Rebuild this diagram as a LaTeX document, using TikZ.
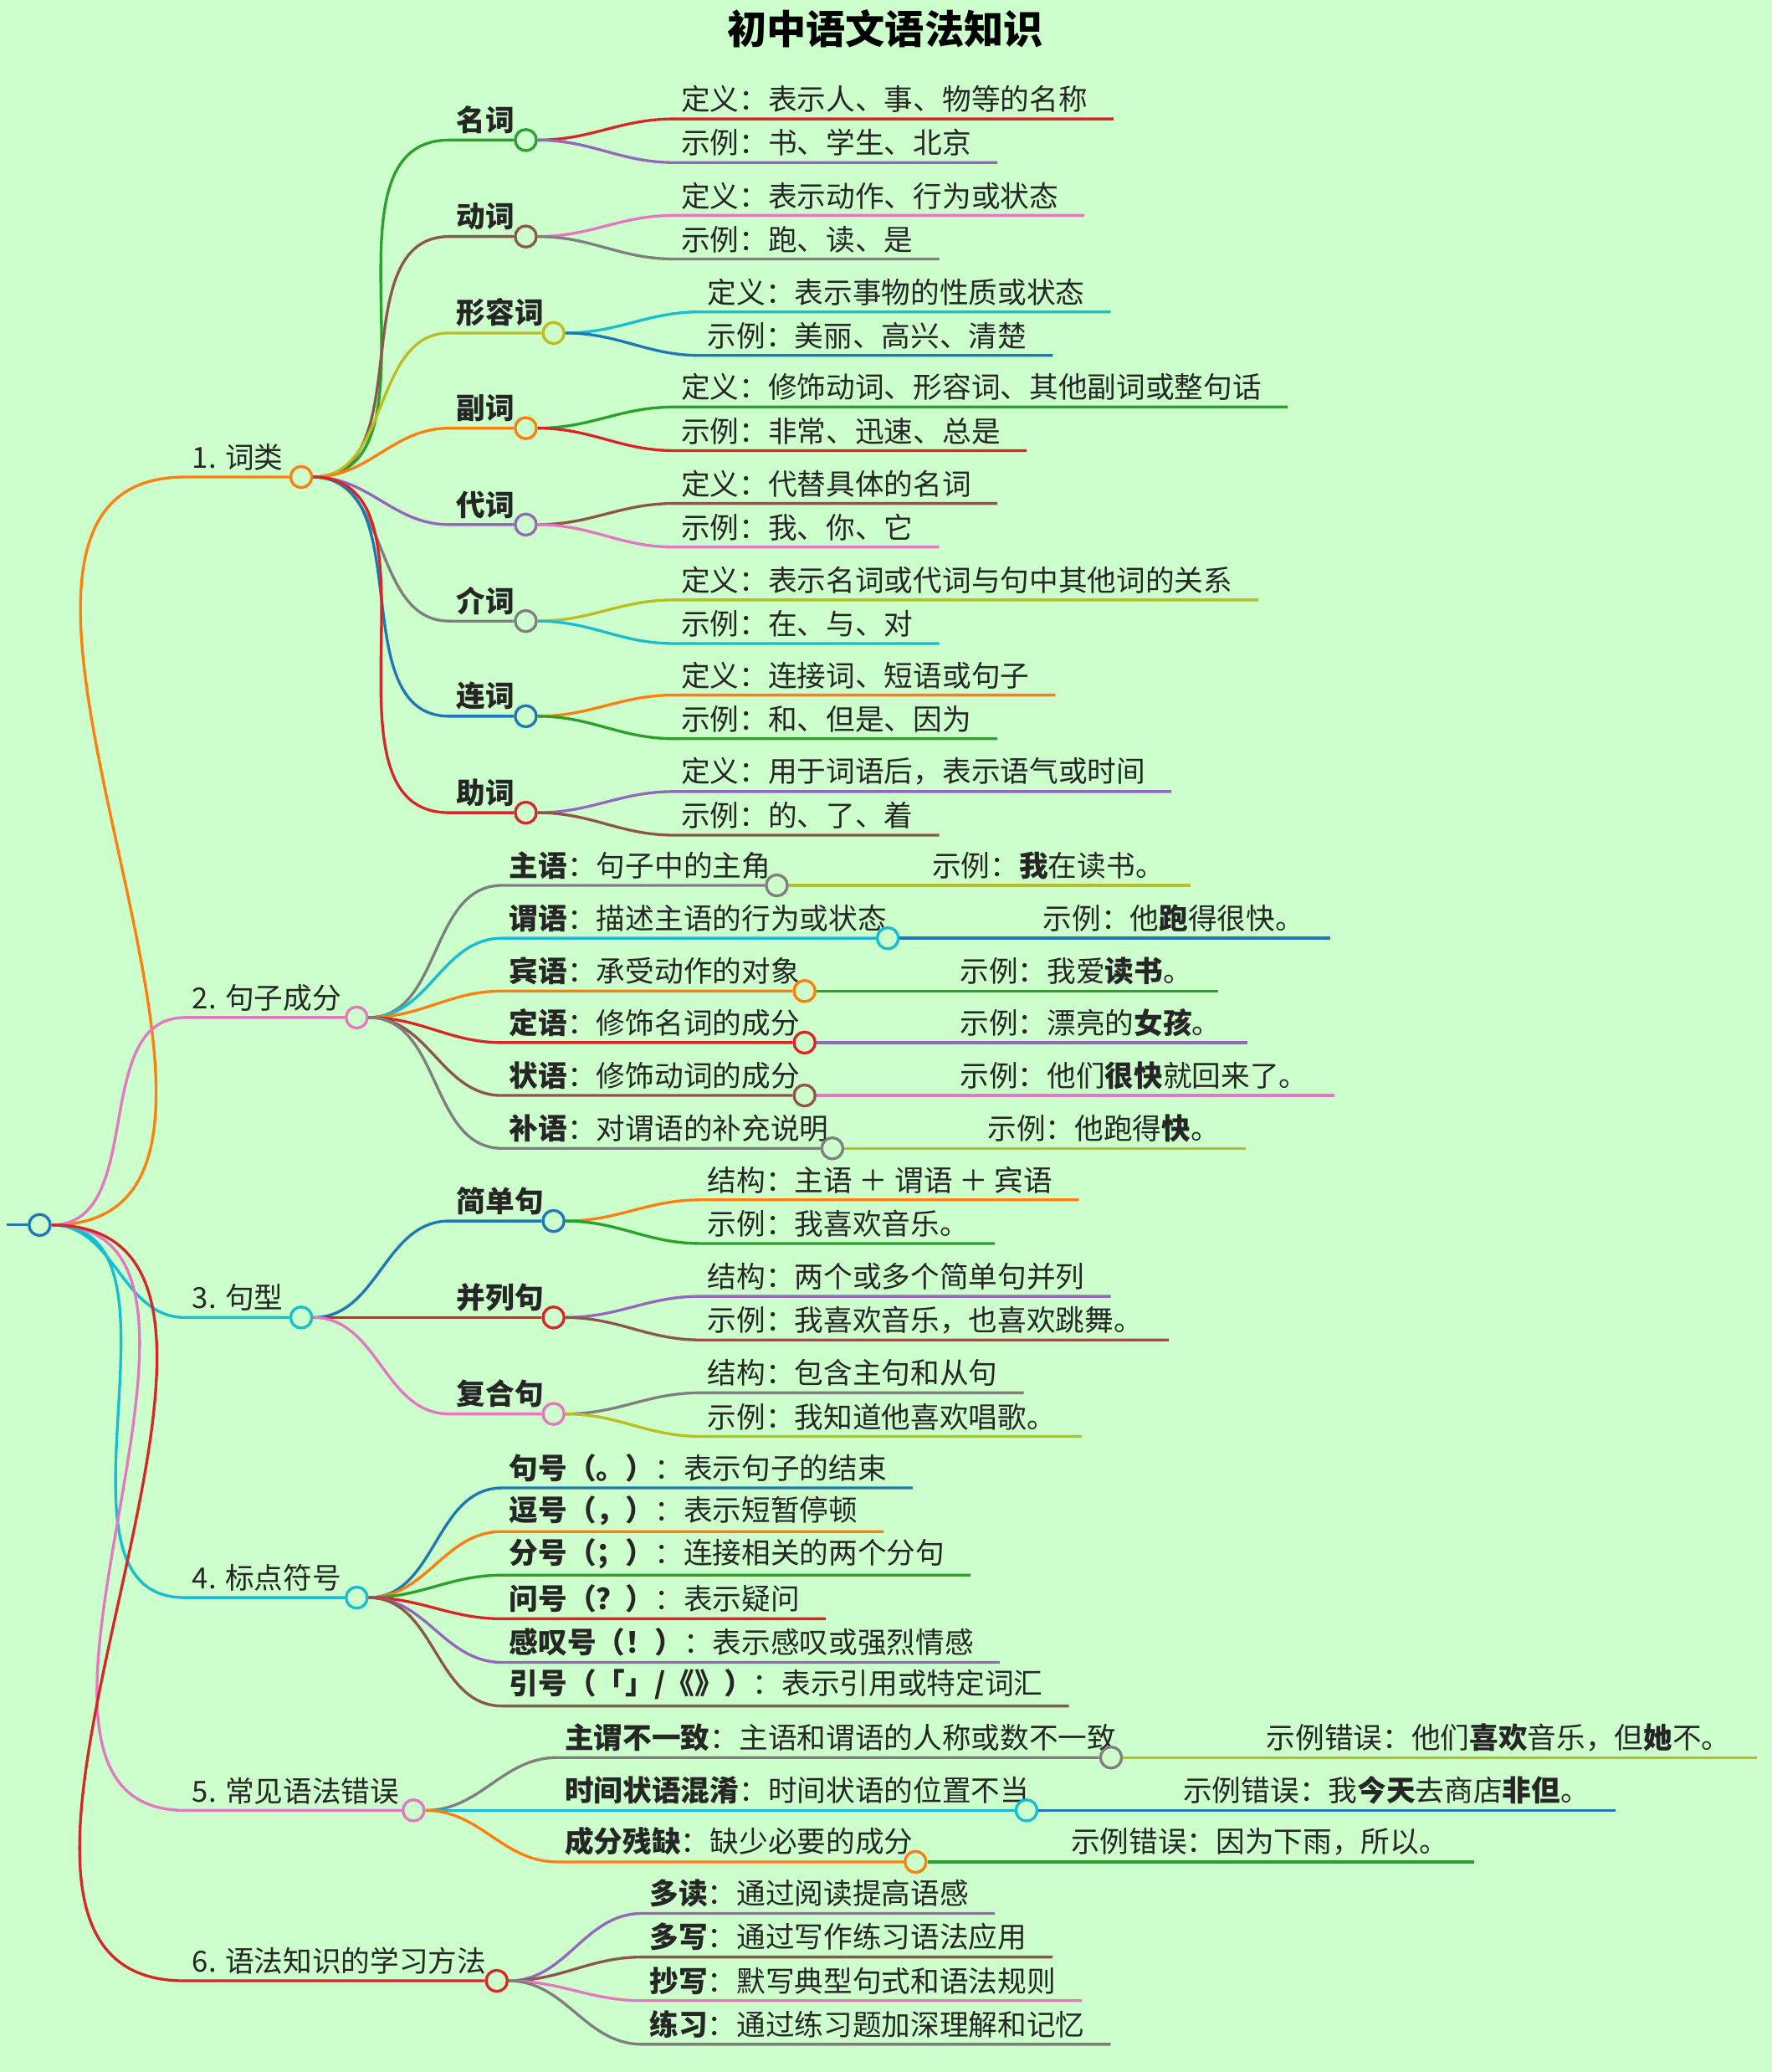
\documentclass[tikz,border=0pt]{standalone}
\usepackage{fontspec}
\setmainfont{Noto Sans CJK SC}
\definecolor{bg}{RGB}{204,255,204}
\definecolor{cOr}{RGB}{255,127,14}
\definecolor{cGr}{RGB}{44,160,44}
\definecolor{cRe}{RGB}{214,39,40}
\definecolor{cPu}{RGB}{148,103,189}
\definecolor{cBr}{RGB}{140,86,75}
\definecolor{cPi}{RGB}{227,119,194}
\definecolor{cGy}{RGB}{127,127,127}
\definecolor{cOl}{RGB}{188,189,34}
\definecolor{cCy}{RGB}{23,190,207}
\definecolor{cBl}{RGB}{31,119,180}

\tikzset{
  lnk/.style={line width=1.2pt},
  txt/.style={inner xsep=3pt, inner ysep=2.5pt, text=black!85, font=\fontsize{12.5}{14}\selectfont},
  dot/.style={circle, draw, fill=bg, line width=1.2pt, minimum size=0.32cm, inner sep=0pt}
}

% hub: name, parent, colour, x, y, circle x, text
\newcommand\hub[7]{%
  \node[txt, anchor=south west] (#1) at (#4,#5) {#7};
  \node[dot, draw=#3] (#1c) at (#6,#5) {};
  \draw[lnk, #3] (#2) to[out=0, in=180] (#1.south west) -- (#1c.west);
}
% leaf: name, parent, colour, x, y, text
\newcommand\leaf[6]{%
  \node[txt, anchor=south west] (#1) at (#4,#5) {#6};
  \draw[lnk, #3] (#2) to[out=0, in=180] (#1.south west) -- ([xshift=8pt]#1.south east);
}

\begin{document}
\begin{tikzpicture}[x=0.02cm, y=-0.02cm]
\useasboundingbox (0,0) rectangle (1341,1568);
\fill[bg] (0,0) rectangle (1341,1568);

\node[font=\fontsize{17}{20}\selectfont\bfseries] (title) at (670,22) {初中语文语法知识};

% root
\coordinate (rs) at (5,927);
\node[dot, draw=cBl] (root) at (30,927) {};
\draw[lnk, cBl] (rs) -- (root.west);

%1. word classes
\hub{w}{root.east}{cOr}{140}{361}{228}{1. 词类}
\hub{w1}{wc.east}{cGr}{340}{106}{398}{\textbf{名词}}
\leaf{w1a}{w1c.east}{cRe}{510}{90}{定义：表示人、事、物等的名称}
\leaf{w1b}{w1c.east}{cPu}{510}{123}{示例：书、学生、北京}
\hub{w2}{wc.east}{cBr}{340}{179}{398}{\textbf{动词}}
\leaf{w2a}{w2c.east}{cPi}{510}{163}{定义：表示动作、行为或状态}
\leaf{w2b}{w2c.east}{cGy}{510}{196}{示例：跑、读、是}
\hub{w3}{wc.east}{cOl}{340}{252}{419}{\textbf{形容词}}
\leaf{w3a}{w3c.east}{cCy}{530}{236}{定义：表示事物的性质或状态}
\leaf{w3b}{w3c.east}{cBl}{530}{269}{示例：美丽、高兴、清楚}
\hub{w4}{wc.east}{cOr}{340}{324}{398}{\textbf{副词}}
\leaf{w4a}{w4c.east}{cGr}{510}{308}{定义：修饰动词、形容词、其他副词或整句话}
\leaf{w4b}{w4c.east}{cRe}{510}{341}{示例：非常、迅速、总是}
\hub{w5}{wc.east}{cPu}{340}{397}{398}{\textbf{代词}}
\leaf{w5a}{w5c.east}{cBr}{510}{381}{定义：代替具体的名词}
\leaf{w5b}{w5c.east}{cPi}{510}{414}{示例：我、你、它}
\hub{w6}{wc.east}{cGy}{340}{470}{398}{\textbf{介词}}
\leaf{w6a}{w6c.east}{cOl}{510}{454}{定义：表示名词或代词与句中其他词的关系}
\leaf{w6b}{w6c.east}{cCy}{510}{487}{示例：在、与、对}
\hub{w7}{wc.east}{cBl}{340}{542}{398}{\textbf{连词}}
\leaf{w7a}{w7c.east}{cOr}{510}{526}{定义：连接词、短语或句子}
\leaf{w7b}{w7c.east}{cGr}{510}{559}{示例：和、但是、因为}
\hub{w8}{wc.east}{cRe}{340}{615}{398}{\textbf{助词}}
\leaf{w8a}{w8c.east}{cPu}{510}{599}{定义：用于词语后，表示语气或时间}
\leaf{w8b}{w8c.east}{cBr}{510}{632}{示例：的、了、着}

%2. sentence components
\hub{s}{root.east}{cPi}{140}{770}{270}{2. 句子成分}
\hub{s1}{sc.east}{cGy}{380}{670}{588}{\textbf{主语}：句子中的主角}
\leaf{s1a}{s1c.east}{cOl}{700}{670}{示例：\textbf{我}在读书。}
\hub{s2}{sc.east}{cCy}{380}{710}{672}{\textbf{谓语}：描述主语的行为或状态}
\leaf{s2a}{s2c.east}{cBl}{784}{710}{示例：他\textbf{跑}得很快。}
\hub{s3}{sc.east}{cOr}{380}{750}{609}{\textbf{宾语}：承受动作的对象}
\leaf{s3a}{s3c.east}{cGr}{721}{750}{示例：我爱\textbf{读书}。}
\hub{s4}{sc.east}{cRe}{380}{789}{609}{\textbf{定语}：修饰名词的成分}
\leaf{s4a}{s4c.east}{cPu}{721}{789}{示例：漂亮的\textbf{女孩}。}
\hub{s5}{sc.east}{cBr}{380}{829}{609}{\textbf{状语}：修饰动词的成分}
\leaf{s5a}{s5c.east}{cPi}{721}{829}{示例：他们\textbf{很快}就回来了。}
\hub{s6}{sc.east}{cGy}{380}{869}{630}{\textbf{补语}：对谓语的补充说明}
\leaf{s6a}{s6c.east}{cOl}{742}{869}{示例：他跑得\textbf{快}。}

%3. sentence patterns
\hub{p}{root.east}{cCy}{140}{997}{228}{3. 句型}
\hub{p1}{pc.east}{cBl}{340}{924}{419}{\textbf{简单句}}
\leaf{p1a}{p1c.east}{cOr}{530}{908}{结构：主语 ＋ 谓语 ＋ 宾语}
\leaf{p1b}{p1c.east}{cGr}{530}{941}{示例：我喜欢音乐。}
\hub{p2}{pc.east}{cRe}{340}{997}{419}{\textbf{并列句}}
\leaf{p2a}{p2c.east}{cPu}{530}{981}{结构：两个或多个简单句并列}
\leaf{p2b}{p2c.east}{cBr}{530}{1014}{示例：我喜欢音乐，也喜欢跳舞。}
\hub{p3}{pc.east}{cPi}{340}{1070}{419}{\textbf{复合句}}
\leaf{p3a}{p3c.east}{cGy}{530}{1054}{结构：包含主句和从句}
\leaf{p3b}{p3c.east}{cOl}{530}{1087}{示例：我知道他喜欢唱歌。}

%4. punctuation
\hub{m}{root.east}{cCy}{140}{1209}{270}{4. 标点符号}
\leaf{m1}{mc.east}{cBl}{380}{1126}{\textbf{句号（。）}：表示句子的结束}
\leaf{m2}{mc.east}{cOr}{380}{1159}{\textbf{逗号（，）}：表示短暂停顿}
\leaf{m3}{mc.east}{cGr}{380}{1192}{\textbf{分号（；）}：连接相关的两个分句}
\leaf{m4}{mc.east}{cRe}{380}{1225}{\textbf{问号（？）}：表示疑问}
\leaf{m5}{mc.east}{cPu}{380}{1258}{\textbf{感叹号（！）}：表示感叹或强烈情感}
\leaf{m6}{mc.east}{cBr}{380}{1291}{\textbf{引号（「」/《》）}：表示引用或特定词汇}

%5. common errors
\hub{e}{root.east}{cPi}{140}{1370}{313}{5. 常见语法错误}
\hub{e1}{ec.east}{cGy}{422}{1330}{841}{\textbf{主谓不一致}：主语和谓语的人称或数不一致}
\leaf{e1a}{e1c.east}{cOl}{953}{1330}{示例错误：他们\textbf{喜欢}音乐，但\textbf{她}不。}
\hub{e2}{ec.east}{cCy}{422}{1370}{777}{\textbf{时间状语混淆}：时间状语的位置不当}
\leaf{e2a}{e2c.east}{cBl}{890}{1370}{示例错误：我\textbf{今天}去商店\textbf{非但}。}
\hub{e3}{ec.east}{cOr}{422}{1409}{693}{\textbf{成分残缺}：缺少必要的成分}
\leaf{e3a}{e3c.east}{cGr}{805}{1409}{示例错误：因为下雨，所以。}

%6. learning methods
\hub{l}{root.east}{cRe}{140}{1499}{376}{6. 语法知识的学习方法}
\leaf{l1}{lc.east}{cPu}{486}{1448}{\textbf{多读}：通过阅读提高语感}
\leaf{l2}{lc.east}{cBr}{486}{1481}{\textbf{多写}：通过写作练习语法应用}
\leaf{l3}{lc.east}{cPi}{486}{1514}{\textbf{抄写}：默写典型句式和语法规则}
\leaf{l4}{lc.east}{cGy}{486}{1547}{\textbf{练习}：通过练习题加深理解和记忆}

\end{tikzpicture}
\end{document}
